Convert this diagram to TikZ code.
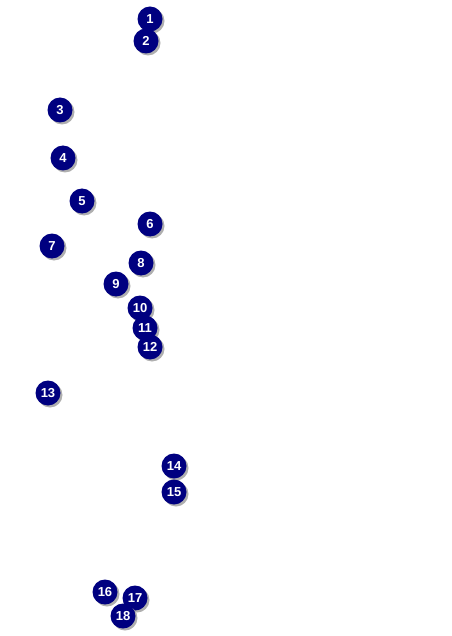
\documentclass[tikz,border=0pt]{standalone}
\usepackage{fontspec}
\setmainfont{Liberation Sans}
\definecolor{navyball}{RGB}{0,0,128}
\definecolor{ballshadow}{RGB}{175,175,175}
\tikzset{
  ball/.style={circle, fill=navyball, minimum size=25pt, inner sep=0pt,
    text=white, font=\bfseries\fontsize{13pt}{13pt}\selectfont,
    preaction={fill=ballshadow, transform canvas={shift={(2pt,-2pt)}}}},
}
\begin{document}
\begin{tikzpicture}[x=1pt,y=-1pt]
\useasboundingbox (0,0) rectangle (451,636);
\foreach \n/\x/\y in {1/150/19, 2/146/41, 3/60/110, 4/63/158, 5/82/201, 6/150/224, 7/52/246, 8/141/263, 9/116/284, 10/140/308, 11/145/328, 12/150/347, 13/48/393, 14/174/466, 15/174/492, 16/105/592, 17/135/598, 18/123/616}
  \node[ball] (b\n) at (\x,\y) {\n};
\end{tikzpicture}
\end{document}
